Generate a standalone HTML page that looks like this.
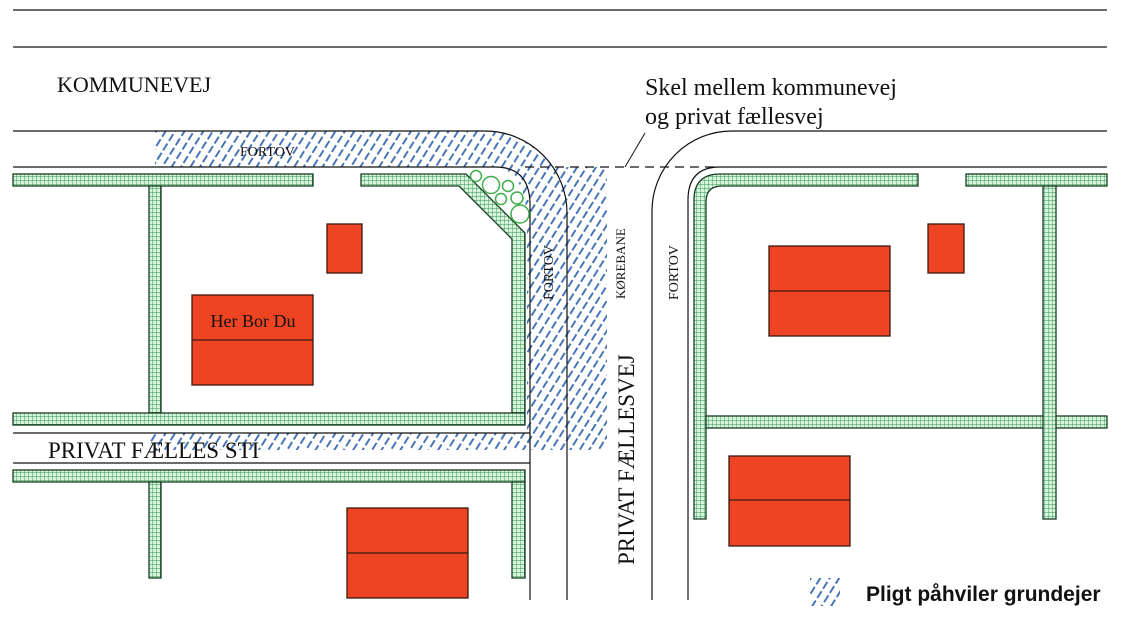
<!DOCTYPE html>
<html><head><meta charset="utf-8"><style>
html,body{margin:0;padding:0;background:#fff;}
svg{display:block;}
text{font-family:"Liberation Serif",serif;fill:#111;}
</style></head><body>
<svg width="1123" height="621" viewBox="0 0 1123 621" xmlns="http://www.w3.org/2000/svg">
<defs>
<pattern id="hatch" width="8" height="11" patternUnits="userSpaceOnUse" patternTransform="rotate(32)">
<line x1="2" y1="0" x2="2" y2="8" stroke="#3f70b5" stroke-width="1.9"/>
</pattern>
<pattern id="grid" width="4" height="4" patternUnits="userSpaceOnUse">
<rect width="4" height="4" fill="#d6f5dc"/>
<path d="M0,0H4M0,0V4" stroke="#2f9152" stroke-width="0.9"/>
</pattern>
</defs>
<g stroke="#111" stroke-width="1.2" fill="none">
<line x1="13" y1="10" x2="1107" y2="10"/>
<line x1="13" y1="47" x2="1107" y2="47"/>
</g>
<path d="M155,131 H485 A82 82 0 0 1 553,167 H607 V450 H527 V225 Q527,167 490,167 H155 Z" fill="url(#hatch)"/>
<rect x="150" y="433" width="380" height="17" fill="url(#hatch)"/>
<g stroke="#111" stroke-width="1.2" fill="none">
<path d="M13,131 H485 A82 82 0 0 1 567,213 V600"/>
<path d="M13,167 H495 Q530,167 530,205 V600"/>
<path d="M652,600 V211 A80 80 0 0 1 732,131 H1107"/>
<path d="M688,600 V200 Q688,167 720,167 H1107"/>
<line x1="525" y1="167" x2="720" y2="167" stroke-dasharray="9,6"/>
<line x1="645" y1="133" x2="625" y2="167" stroke-width="1"/>
<line x1="13" y1="433" x2="530" y2="433"/>
<line x1="13" y1="463" x2="530" y2="463"/>
</g>
<g fill="url(#grid)" stroke="#1a3a22" stroke-width="1.3">
<rect x="13" y="174" width="300" height="12"/>
<rect x="149" y="186" width="12" height="227"/>
<path d="M361,174 H466 L525,233 V413 H512 V239 L459,186 H361 Z"/>
<rect x="13" y="413" width="512" height="12"/>
<rect x="13" y="470" width="512" height="12"/>
<rect x="149" y="482" width="12" height="96"/>
<rect x="512" y="482" width="13" height="96"/>
<path d="M694,519 V200 Q694,174 720,174 H918 V186 H722 Q706,186 706,202 V519 Z"/>
<rect x="966" y="174" width="141" height="12"/>
<rect x="706" y="416" width="401" height="12"/>
<rect x="1043" y="186" width="13" height="333"/>
</g>
<g fill="#fff" stroke="#3fae4a" stroke-width="1.5">
<circle cx="476" cy="176" r="5.5"/>
<circle cx="491" cy="185" r="8.5"/>
<circle cx="508" cy="186" r="5.5"/>
<circle cx="501" cy="199" r="5.5"/>
<circle cx="517" cy="198" r="6"/>
<circle cx="520" cy="214" r="9"/>
</g>
<g fill="#ee4423" stroke="#3a1a10" stroke-width="1.3">
<rect x="327" y="224" width="35" height="49"/>
<rect x="192" y="295" width="121" height="90"/>
<rect x="347" y="508" width="121" height="90"/>
<rect x="769" y="246" width="121" height="90"/>
<rect x="928" y="224" width="36" height="49"/>
<rect x="729" y="456" width="121" height="90"/>
</g>
<g stroke="#3a1a10" stroke-width="1.3">
<line x1="192" y1="340" x2="313" y2="340"/>
<line x1="347" y1="553" x2="468" y2="553"/>
<line x1="769" y1="291" x2="890" y2="291"/>
<line x1="729" y1="500" x2="850" y2="500"/>
</g>
<text x="57" y="92" font-size="22">KOMMUNEVEJ</text>
<text x="645" y="95" font-size="24">Skel mellem kommunevej</text>
<text x="645" y="124" font-size="24">og privat fællesvej</text>
<text x="240" y="156" font-size="14">FORTOV</text>
<text x="253" y="327" font-size="18" text-anchor="middle">Her Bor Du</text>
<text x="48" y="458" font-size="23">PRIVAT FÆLLES STI</text>
<text transform="translate(553,300) rotate(-90)" font-size="14">FORTOV</text>
<text transform="translate(625,299) rotate(-90)" font-size="13">KØREBANE</text>
<text transform="translate(678,300) rotate(-90)" font-size="14">FORTOV</text>
<text transform="translate(634,565) rotate(-90)" font-size="23">PRIVAT FÆLLESVEJ</text>
<rect x="810" y="578" width="30" height="28" fill="url(#hatch)"/>
<text x="866" y="601" font-size="21" font-weight="bold" style="font-family:'Liberation Sans',sans-serif">Pligt påhviler grundejer</text>
</svg>
</body></html>
